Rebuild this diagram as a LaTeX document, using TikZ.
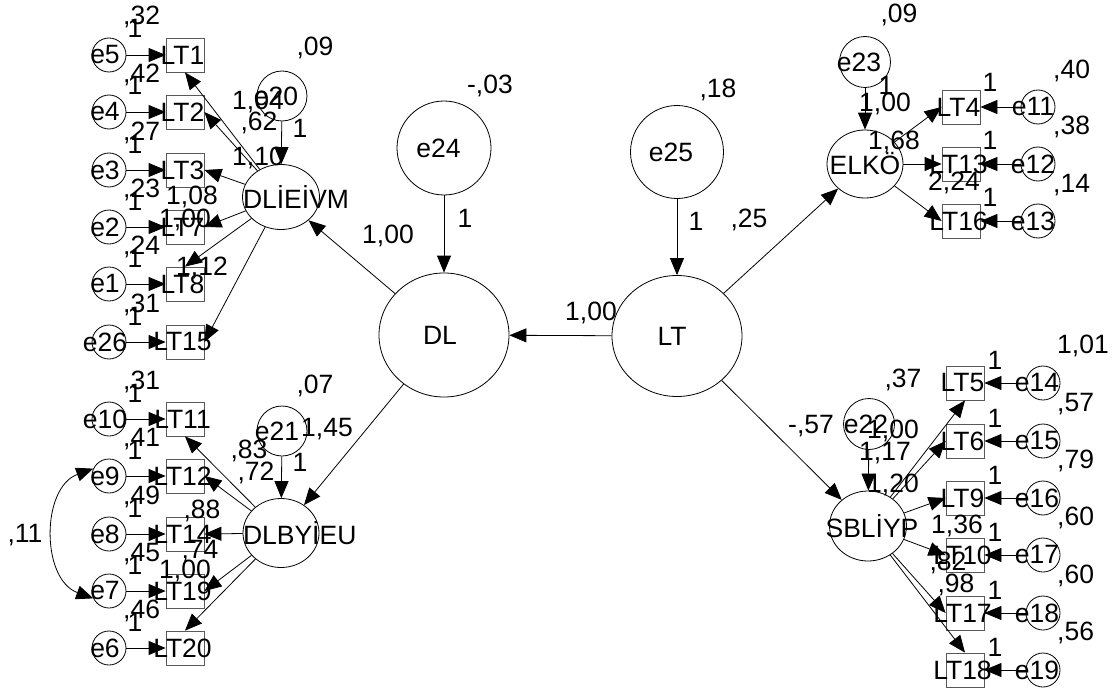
\documentclass[tikz,border=0pt]{standalone}
\usepackage{fontspec}
\setmainfont{Liberation Sans}
\usetikzlibrary{shapes.geometric,arrows.meta}
% centred text of zero width, shifted horizontally by half of #1
\newcommand{\zs}[2]{\makebox[0pt]{\kern#1\relax#2}}
\newcommand{\zb}[1]{\makebox[0pt]{#1}}
\definecolor{boxgray}{gray}{0.35}
\begin{document}
\begin{tikzpicture}[x=1pt,y=-1pt,
  every node/.style={font=\fontsize{26.5}{31}\selectfont},
  lat/.style={ellipse,draw,line width=0.8pt,inner sep=0pt},
  err/.style={circle,draw,line width=0.8pt,inner sep=0pt,minimum size=34pt},
  obs/.style={rectangle,draw=boxgray,line width=0.8pt,inner sep=0pt,minimum width=38pt,minimum height=34pt},
  lbl/.style={inner sep=0pt,anchor=base},
  lblw/.style={inner sep=0pt,anchor=base west},
  arr/.style={-{Triangle[length=17pt,width=14pt]},line width=0.8pt},
  arrb/.style={{Triangle[length=17pt,width=14pt]}-{Triangle[length=17pt,width=14pt]},line width=0.8pt}]
\fill[white] (0,0) rectangle (1120,693);
\useasboundingbox (0,0) rectangle (1120,693);

% structural latent variables
\node[lat,minimum width=130pt,minimum height=124pt] (DL) at (444,335) {\zs{-8pt}{DL}};
\node[lat,minimum width=130pt,minimum height=121pt] (LT) at (677,336) {\zs{-10pt}{LT}};
\node[err,minimum size=94pt] (e24) at (444,148) {\zs{-11pt}{e24}};
\node[err,minimum size=93pt] (e25) at (677,152) {\zs{-12pt}{e25}};

\node[lat,minimum width=77pt,minimum height=65pt] (F1) at (281,197) {\makebox[0pt][l]{\kern-38pt DLİEİVM}};
\node[err,minimum size=50pt] (e20) at (282,96) {\zs{-12pt}{e20}};
\node[lat,minimum width=76pt,minimum height=69pt] (F2) at (281,533) {\makebox[0pt][l]{\kern-38pt DLBYİEU}};
\node[err,minimum size=50pt] (e21) at (282,431) {\zs{-10pt}{e21}};
\node[lat,minimum width=76pt,minimum height=68pt] (F3) at (865,164) {\zb{ELKÖ}};
\node[err,minimum size=51pt] (e23) at (865,62) {\zs{-12pt}{e23}};
\node[lat,minimum width=77pt,minimum height=70pt] (F4) at (868,526) {\zs{8pt}{SBLİYP}};
\node[err,minimum size=51pt] (e22) at (869,424) {\zs{-6pt}{e22}};

% left indicators
\foreach \b/\e/\y/\v in {LT1/e5/55/{,32},LT2/e4/112/{,42},LT3/e3/170/{,27},LT7/e2/227/{,23},LT8/e1/284/{,24},LT15/e26/342/{,31},LT11/e10/419/{,31},LT12/e9/476/{,41},LT14/e8/534/{,49},LT19/e7/591/{,45},LT20/e6/648/{,46}}{
  \node[obs] (\b) at (185,\y) {\zs{-5pt}{\b}};
  \node[err] (\e) at (109,\y) {\zs{-8pt}{\e}};
  \node[lblw] (v\e) at (123,\y-30) {\v};
  \node[lbl] (o\e) at (135,\y-17) {1};
}
% ELKO indicators
\foreach \b/\e/\y/\v in {LT4/e11/107/{,40},LT13/e12/164/{,38},LT16/e13/221/{,14}}{
  \node[obs] (\b) at (961,\y) {\zs{-5pt}{\b}};
  \node[err] (\e) at (1038,\y) {\zs{-10pt}{\e}};
  \node[lblw] (v\e) at (1053,\y-29) {\v};
  \node[lbl] (o\e) at (990,\y-15) {1};
}
% SBLIYP indicators
\foreach \b/\e/\y/\v in {LT5/e14/383/{1,01},LT6/e15/441/{,57},LT9/e16/498/{,79},LT10/e17/555/{,60},LT17/e18/613/{,60},LT18/e19/670/{,56}}{
  \node[obs] (\b) at (965,\y) {\zs{-5pt}{\b}};
  \node[err] (\e) at (1043,\y) {\zs{-12pt}{\e}};
  \node[lblw] (v\e) at (1057,\y-30) {\v};
  \node[lbl] (o\e) at (995,\y-14) {1};
}

% estimate labels
\foreach \px/\py/\t [count=\i] in {315/56/{,09},300/137/1,258/110/{1,04},259/130/{,62},258/165/{1,10},192/204/{1,08},185/227/{1,00},202/275/{1,12},
  315/393/{,07},327/436/{1,45},300/471/1,249/458/{,83},256/480/{,72},202/518/{,88},200/558/{,74},185/578/{1,00},
  899/23/{,09},886/95/1,885/112/{1,00},894/149/{1,68},954/190/{2,24},
  903/387/{,37},811/433/{-,57},893/438/{1,00},885/460/{1,17},893/492/{1,20},957/533/{1,36},948/570/{,82},956/592/{,98},
  490/93/{-,03},718/97/{,18},465/227/1,696/230/1,388/243/{1,00},591/320/{1,00},749/227/{,25},25/542/{,11}}{
  \node[lbl] (L\i) at (\px,\py) {\t};
}

% error -> indicator arrows
\foreach \b/\e in {LT1/e5,LT2/e4,LT3/e3,LT7/e2,LT8/e1,LT15/e26,LT11/e10,LT12/e9,LT14/e8,LT19/e7,LT20/e6,LT4/e11,LT13/e12,LT16/e13,LT5/e14,LT6/e15,LT9/e16,LT10/e17,LT17/e18,LT18/e19}{
  \draw[arr] (\e) -- (\b);
}

% loadings
\draw[arr] (F1) -- (LT1.south);
\draw[arr] (F1) -- (LT2.east);
\draw[arr] (F1) -- (LT3.east);
\draw[arr] (F1) -- (LT7.east);
\draw[arr] (F1) -- (LT8.north);
\draw[arr] (F1) -- (LT15.east);
\draw[arr] (F2) -- (LT11.south);
\draw[arr] (F2) -- (LT12.east);
\draw[arr] (F2) -- (LT14.east);
\draw[arr] (F2) -- (LT19.east);
\draw[arr] (F2) -- (LT20.north);
\draw[arr] (F3) -- (LT4.west);
\draw[arr] (F3) -- (LT13.west);
\draw[arr] (F3) -- (LT16.west);
\draw[arr] (F4) -- (LT5.south);
\draw[arr] (F4) -- (LT6.west);
\draw[arr] (F4) -- (LT9.west);
\draw[arr] (F4) -- (LT10.west);
\draw[arr] (F4) -- (LT17.west);
\draw[arr] (F4) -- (LT18.north);

% disturbances
\draw[arr] (e20) -- (F1);
\draw[arr] (e21) -- (F2);
\draw[arr] (e23) -- (F3);
\draw[arr] (e22) -- (F4);
\draw[arr] (e24) -- (DL);
\draw[arr] (e25) -- (LT);

% structural paths
\draw[arr] (LT) -- (DL);
\draw[arr] (DL) -- (F1);
\draw[arr] (DL) -- (F2);
\draw[arr] (LT) -- (F3);
\draw[arr] (LT) -- (F4);

% covariance
\draw[arrb] (e9.155) to[out=200,in=160,looseness=1.1] (e7.205);
\end{tikzpicture}
\end{document}
